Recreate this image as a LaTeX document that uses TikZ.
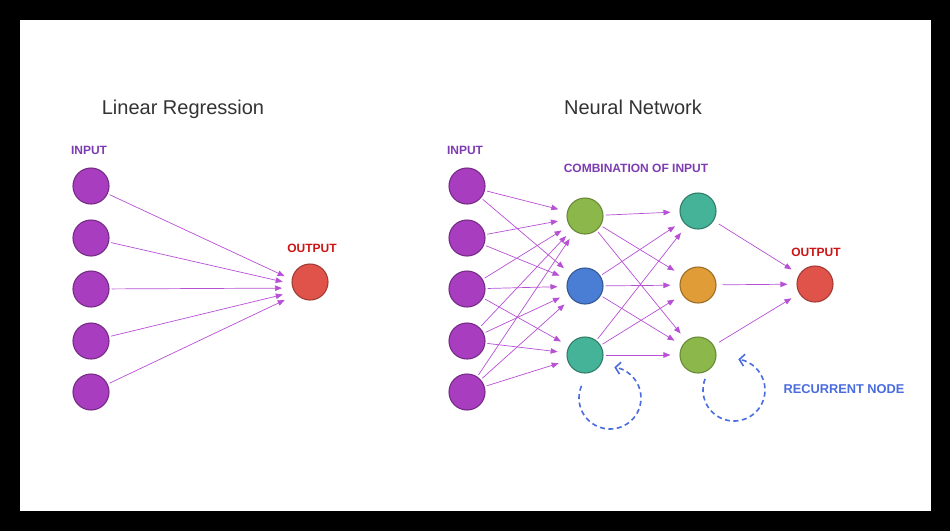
\documentclass[tikz,border=0pt]{standalone}
\usepackage{fontspec}
\setmainfont{Liberation Sans}
\usepackage{tikz}
\usetikzlibrary{arrows.meta, positioning, calc}
\definecolor{popgray}{RGB}{51, 51, 51}
\definecolor{poplabel}{RGB}{125, 60, 178}
\definecolor{popred}{RGB}{204, 20, 20}
\definecolor{popblue}{RGB}{74, 108, 222}
\definecolor{wirepurple}{RGB}{184, 80, 214}
\definecolor{inpurple}{RGB}{169, 61, 191}
\definecolor{ingreen}{RGB}{140, 184, 75}
\definecolor{inblue}{RGB}{74, 125, 212}
\definecolor{inteal}{RGB}{69, 179, 152}
\definecolor{inorange}{RGB}{224, 156, 54}
\definecolor{inred}{RGB}{224, 83, 74}

\begin{document}
\begin{tikzpicture}[x=1pt, y=-1pt,
  neuron/.style={circle, minimum size=36pt, inner sep=0pt, line width=1.1pt},
  purplenode/.style={neuron, fill=inpurple, draw=inpurple!70!black},
  greennode/.style={neuron, fill=ingreen, draw=ingreen!75!black},
  bluenode/.style={neuron, fill=inblue, draw=inblue!70!black},
  tealnode/.style={neuron, fill=inteal, draw=inteal!70!black},
  orangenode/.style={neuron, fill=inorange, draw=inorange!70!black},
  rednode/.style={neuron, fill=inred, draw=inred!72!black},
  synapse/.style={draw=wirepurple, line width=0.7pt, -{Triangle[length=7pt, width=5.5pt]}, shorten <=2pt, shorten >=9pt},
  loopback/.style={draw=popblue, line width=1.6pt, dash pattern=on 5pt off 3.5pt, -{Straight Barb[length=5pt, width=12pt]}},
  heading/.style={font=\fontsize{20}{24}\selectfont, text=popgray, inner sep=0pt, anchor=base},
  smalltag/.style={font=\bfseries\fontsize{12}{14}\selectfont, inner sep=0pt, anchor=base}
]
  \fill[black] (0,0) rectangle (950,531);
  \fill[white] (20,20) rectangle (931,511);

  % linear regression
  \node[heading] (lrtitle) at (183,114) {Linear Regression};
  \node[smalltag, text=poplabel] (lrin) at (89,154) {INPUT};
  \node[smalltag, text=popred] (lrouttag) at (312,252) {OUTPUT};
  \foreach \i/\y in {1/186, 2/238, 3/289, 4/341, 5/392}
    \node[purplenode] (lr\i) at (91,\y) {};
  \node[rednode] (lrout) at (310,282) {};
  \foreach \i in {1,...,5}
    \draw[synapse, shorten >=28pt] (lr\i) -- ([yshift=-6pt]lrout.center);

  % neural network
  \node[heading] (nntitle) at (633,114) {Neural Network};
  \node[smalltag, text=poplabel] (nnin) at (465,154) {INPUT};
  \node[smalltag, text=poplabel] (combo) at (636,172) {COMBINATION OF INPUT};
  \node[smalltag, text=popred] (nnouttag) at (816,256) {OUTPUT};
  \node[smalltag, text=popblue, font=\bfseries\fontsize{12.8}{14}\selectfont] (recur) at (844,393) {RECURRENT NODE};

  \foreach \i/\y in {1/186, 2/238, 3/289, 4/341, 5/392}
    \node[purplenode] (in\i) at (467,\y) {};
  \node[greennode] (ha1) at (585,216) {};
  \node[bluenode] (ha2) at (585,286) {};
  \node[tealnode] (ha3) at (585,355) {};
  \node[tealnode] (hb1) at (698,211) {};
  \node[orangenode] (hb2) at (698,285) {};
  \node[greennode] (hb3) at (698,355) {};
  \node[rednode] (nnout) at (815,284) {};

  \foreach \a/\b in {1/1, 1/2, 2/1, 2/2, 3/1, 3/2, 3/3, 4/1, 4/2, 4/3, 5/1, 5/2, 5/3}
    \draw[synapse] (in\a) -- (ha\b);
  \foreach \a in {1,2,3}
    \foreach \b in {1,2,3}
      \draw[synapse] (ha\a) -- (hb\b);
  \foreach \b in {1,2,3}
    \draw[synapse, shorten <=6pt] (hb\b) -- (nnout);

  % recurrent loops
  \coordinate (loopa) at ($(ha3)+(25,43)$);
  \coordinate (loopb) at ($(hb3)+(36,35)$);
  \draw[loopback] (loopa) ++(203:31) arc[start angle=203, end angle=-82, radius=31];
  \draw[loopback] (loopb) ++(201:31) arc[start angle=201, end angle=-82, radius=31];
\end{tikzpicture}
\end{document}
